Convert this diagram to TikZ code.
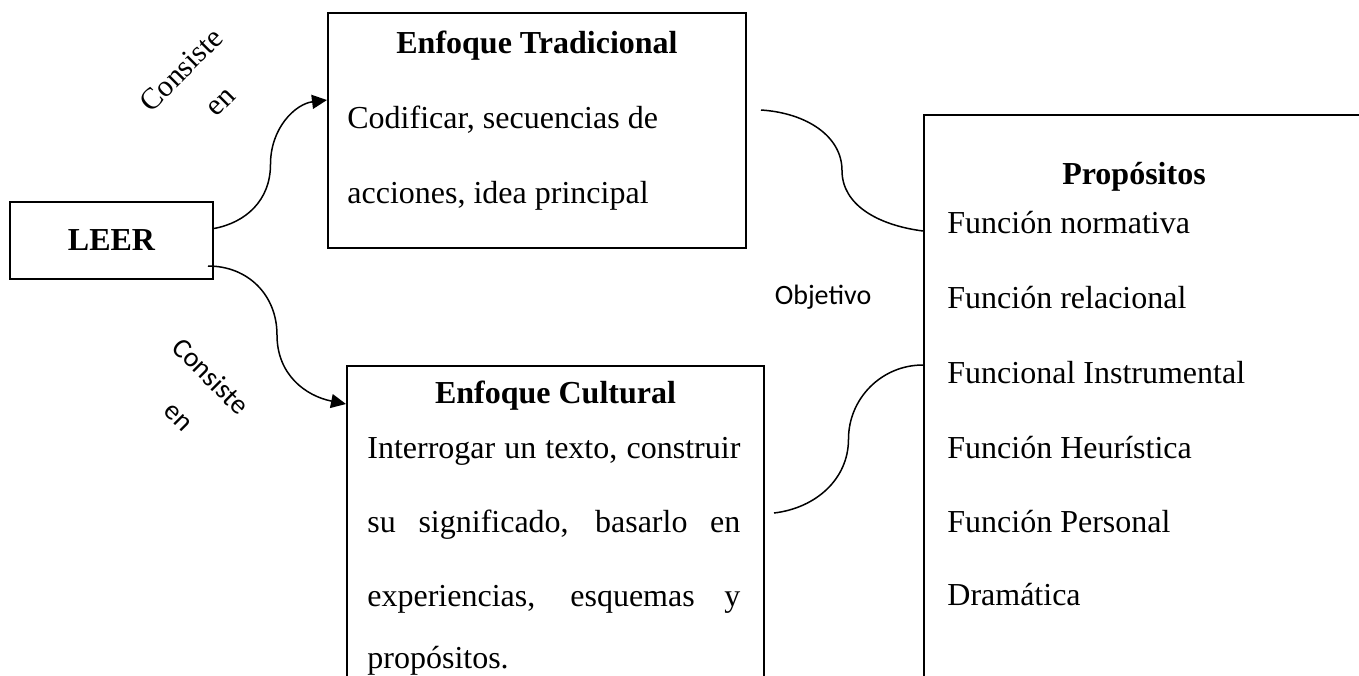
\documentclass[tikz,border=0pt]{standalone}
\usepackage{fontspec}
\setmainfont{Liberation Serif}
\newfontfamily\calfont{Carlito}
\usetikzlibrary{arrows.meta}
\usetikzlibrary{calc}
\tikzstyle{none}=[inner sep=0pt]
\tikzstyle{box}=[rectangle, draw, line width=1pt, inner sep=0pt]
\tikzstyle{txt}=[inner sep=0pt, anchor=base west, font=\fontsize{16}{19}\selectfont]
\tikzstyle{head}=[inner sep=0pt, anchor=base, font=\fontsize{16}{19}\selectfont\bfseries]
\tikzstyle{tag}=[inner sep=0pt, font=\calfont\fontsize{14}{16}\selectfont]
\tikzstyle{link}=[line width=0.75pt]
\tikzstyle{tip}=[-{Triangle[length=7.5pt,width=7pt]}]

\begin{document}
\begin{tikzpicture}[x=0.5pt,y=-0.5pt]
	\useasboundingbox (0,0) rectangle (1359,675);
	\clip (0,0) rectangle (1359,675);
	\node [style=box, minimum width=101.5pt, minimum height=38.5pt, font=\fontsize{16}{19}\selectfont\bfseries] (0) at (111.5, 240.5) {LEER};
	\node [style=box, minimum width=209pt, minimum height=117.5pt] (1) at (537, 130.5) {};
	\node [style=head] (2) at (537, 53) {Enfoque Tradicional};
	\node [style=txt] (3) at (347, 128) {Codificar, secuencias de};
	\node [style=txt] (4) at (347, 203) {acciones, idea principal};
	\node [style=box, minimum width=208.5pt, minimum height=170pt] (5) at (555.5, 536) {};
	\node [style=head] (6) at (555.5, 403) {Enfoque Cultural};
	\node [style=txt] (7) at (367, 458) {\makebox[186.5pt][s]{Interrogar un texto, construir}};
	\node [style=txt] (8) at (367, 532) {\makebox[186.5pt][s]{su significado, basarlo en}};
	\node [style=txt] (9) at (367, 606) {\makebox[186.5pt][s]{experiencias, esquemas y}};
	\node [style=txt] (10) at (367, 668) {propósitos.};
	\node [style=box, minimum width=240pt, minimum height=300pt] (11) at (1164, 415) {};
	\node [style=head] (12) at (1134, 184) {Propósitos};
	\node [style=txt] (13) at (947, 233) {Función normativa};
	\node [style=txt] (14) at (947, 308) {Función relacional};
	\node [style=txt] (15) at (947, 383) {Funcional Instrumental};
	\node [style=txt] (16) at (947, 458) {Función Heurística};
	\node [style=txt] (17) at (947, 532) {Función Personal};
	\node [style=txt] (18) at (947, 605) {Dramática};
	\node [style=none, rotate=45, font=\fontsize{15}{18}\selectfont] (20) at (181, 70) {Consiste};
	\node [style=none, rotate=45, font=\fontsize{15}{18}\selectfont] (21) at (222, 103) {en};
	\node [style=tag, rotate=-45] (22) at (211, 376) {Consiste};
	\node [style=tag, rotate=-45] (23) at (177, 418) {en};
	\node [style=tag] (24) at (823, 297) {Objetivo};

	\coordinate (a0) at ([yshift=6pt]0.east);
	\coordinate (a1) at ([yshift=15.25pt]1.west);
	\coordinate (b0) at ([xshift=-3pt,yshift=-12.75pt]0.east);
	\coordinate (b1) at ([yshift=-19.5pt]5.north west);
	\coordinate (c0) at ([xshift=7pt,yshift=10.25pt]1.east);
	\coordinate (c1) at ([yshift=-58.5pt]11.north west);
	\coordinate (d0) at ([xshift=4.5pt,yshift=11.5pt]5.east);
	\coordinate (d1) at ([yshift=-125.5pt]11.north west);

	\draw [style=link, style=tip] (a0) .. controls +(32,-6) and +(0,36) .. ($(a0)!.5!(a1)$) .. controls +(0,-36) and +(-32,4) .. (a1);
	\draw [style=link, style=tip] (b0) .. controls +(40,0) and +(0,-40) .. ($(b0)!.5!(b1)$) .. controls +(0,40) and +(-40,-8) .. (b1);
	\draw [style=link] (c0) .. controls +(46,3) and +(0,-34) .. ($(c0)!.5!(c1)$) .. controls +(0,34) and +(-46,-6) .. (c1);
	\draw [style=link] (d0) .. controls +(42,-5) and +(0,40) .. ($(d0)!.5!(d1)$) .. controls +(0,-40) and +(-42,0) .. (d1);
\end{tikzpicture}
\end{document}
